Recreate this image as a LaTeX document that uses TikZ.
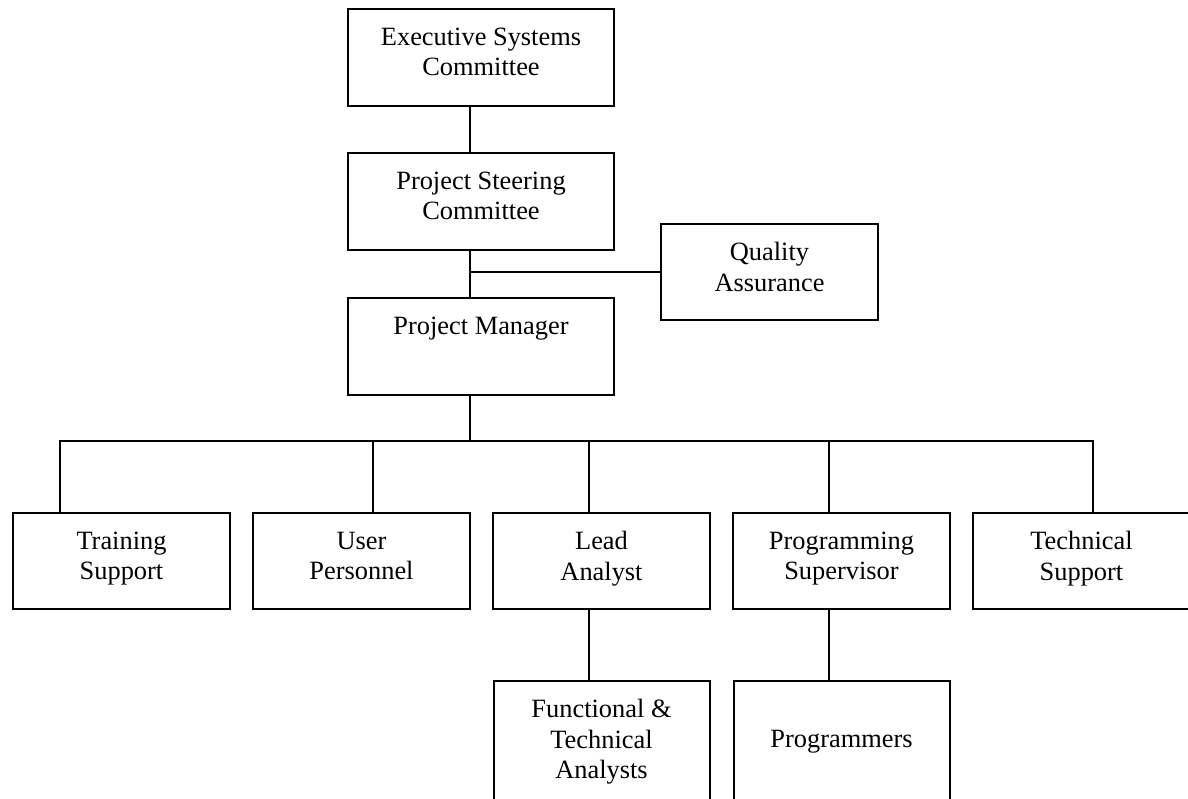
\documentclass[tikz,border=0pt]{standalone}
\usepackage{fontspec}
\setmainfont{Liberation Serif}
\usetikzlibrary{positioning}

\begin{document}
\begin{tikzpicture}[
  x=0.5pt, y=-0.5pt,
  box/.style={rectangle, draw, line width=1pt, inner sep=0pt, minimum width=108.5pt, minimum height=48pt, align=center, text depth=5pt, font=\fontsize{13.2pt}{15.2pt}\selectfont},
  wide/.style={box, minimum width=133pt, minimum height=48.5pt},
  tall/.style={box, minimum width=108pt, minimum height=63pt},
  link/.style={line width=0.8pt}
]
\clip (0,0) rectangle (1188,798);

\node[wide] (ESC) at (481,57) {Executive Systems\\Committee};
\node[wide, below=22.5pt of ESC] (PSC) {Project Steering\\Committee};
\node[wide, below=23pt of PSC] (PM) {Project Manager\\~};
\node[box] (QA) at (769.5,272) {Quality\\Assurance};

\node[box] (TS) at (121.5,561) {Training\\Support};
\node[box, right=10.5pt of TS] (UP) {User\\Personnel};
\node[box, right=10.5pt of UP] (LA) {Lead\\Analyst};
\node[box, right=10.5pt of LA] (PS) {Programming\\Supervisor};
\node[box, right=10.5pt of PS] (TSu) {Technical\\Support};
\node[tall, below=35pt of LA] (FTA) {Functional \&\\Technical\\Analysts};
\node[tall, below=35pt of PS] (PR) {Programmers};

\coordinate (spine) at (470,0);
\coordinate (dTS) at (60,441);
\coordinate (dUP) at (373,441);
\coordinate (dLA) at (589,441);
\coordinate (dPS) at (829,441);
\coordinate (dTSu) at (1093,441);

\draw[link] (ESC.south -| spine) -- (PSC.north -| spine);
\draw[link] (PSC.south -| spine) -- (PM.north -| spine);
\draw[link] (spine |- QA.west) -- (QA.west);
\draw[link] (PM.south -| spine) -- (spine |- dTS);
\draw[link] (dTS |- TS.north) -- (dTS) -- (dTSu) -- (dTSu |- TSu.north);
\draw[link] (dUP) -- (dUP |- UP.north);
\draw[link] (dLA) -- (dLA |- LA.north);
\draw[link] (dPS) -- (dPS |- PS.north);
\draw[link] (LA.south -| dLA) -- (FTA.north -| dLA);
\draw[link] (PS.south -| dPS) -- (PR.north -| dPS);
\end{tikzpicture}
\end{document}
